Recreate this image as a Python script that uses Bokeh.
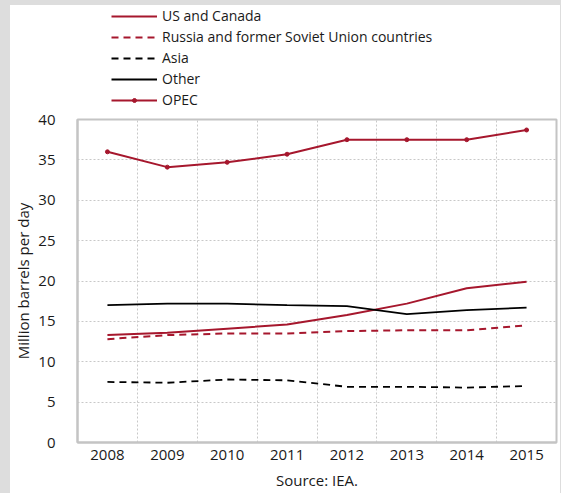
from bokeh.plotting import figure
from bokeh.layouts import column
from bokeh.models import Range1d, FixedTicker, Legend, LegendItem
from bokeh.embed import file_html
from bokeh.resources import INLINE

years = [2008, 2009, 2010, 2011, 2012, 2013, 2014, 2015]
us_canada = [13.3, 13.6, 14.1, 14.6, 15.8, 17.2, 19.1, 19.9]
russia = [12.8, 13.3, 13.5, 13.5, 13.8, 13.9, 13.9, 14.5]
asia = [7.5, 7.4, 7.8, 7.7, 6.9, 6.9, 6.8, 7.0]
other = [17.0, 17.2, 17.2, 17.0, 16.9, 15.9, 16.4, 16.7]
opec = [36.0, 34.1, 34.7, 35.7, 37.5, 37.5, 37.5, 38.7]
y_ticks = [0, 5, 10, 15, 20, 25, 30, 35, 40]
series_names = ["US and Canada", "Russia and former Soviet Union countries", "Asia", "Other", "OPEC"]
series_values = [us_canada, russia, asia, other, opec]

RED = "#a6172d"
FONT = "Open Sans"
GREY_BG = "#dddddd"
styles = [
    dict(line_color=RED, line_width=2),
    dict(line_color=RED, line_width=2, line_dash="7 5"),
    dict(line_color="black", line_width=1.8, line_dash="7 5"),
    dict(line_color="black", line_width=1.8),
    dict(line_color=RED, line_width=2),
]

W = 550
TOP_H = 104
MAIN_H = 384

# ---- main chart ----
p = figure(width=W, height=MAIN_H, output_backend="svg", toolbar_location=None,
           x_range=Range1d(years[0] - 0.5, years[-1] + 0.5), y_range=Range1d(0, 40),
           min_border_left=66, min_border_right=4, min_border_top=10, min_border_bottom=51,
           margin=(0, 1, 0, 10))
p.background_fill_color = "white"
p.border_fill_color = "white"
p.outline_line_color = "#c4c4c4"
p.outline_line_width = 2

for vals, st in zip(series_values, styles):
    p.line(years, vals, **st)
p.scatter(years, opec, size=4, color=RED)

p.xaxis.ticker = FixedTicker(ticks=years)
p.yaxis.ticker = FixedTicker(ticks=y_ticks)
p.xgrid.ticker = FixedTicker(ticks=[y + 0.5 for y in years[:-1]])
for g in (p.xgrid, p.ygrid):
    g.grid_line_color = "#c8c8c8"
    g.grid_line_dash = "2 2"
    g.grid_line_width = 1

for ax in (p.xaxis, p.yaxis):
    ax.axis_line_color = "#c4c4c4"
    ax.axis_line_width = 2
    ax.major_tick_line_color = None
    ax.minor_tick_line_color = None
    ax.major_label_text_font = FONT
    ax.major_label_text_font_size = "15px"
    ax.major_label_text_color = "#1a1a1a"
    ax.axis_label_text_font = FONT
    ax.axis_label_text_font_size = "15px"
    ax.axis_label_text_font_style = "normal"
    ax.axis_label_text_color = "#1a1a1a"

p.yaxis.axis_label = "Million barrels per day"
p.yaxis.major_label_standoff = 16
p.yaxis.axis_label_standoff = 2
p.xaxis.axis_label = "Source: IEA."
p.xaxis.major_label_standoff = 1
p.xaxis.axis_label_standoff = 7

# ---- legend strip above the chart (its lines lie outside its ranges) ----
top = figure(width=W, height=TOP_H, output_backend="svg", toolbar_location=None,
             x_range=Range1d(0, 1), y_range=Range1d(0, 1),
             x_axis_type=None, y_axis_type=None,
             min_border_left=0, min_border_right=0, min_border_top=0, min_border_bottom=0,
             margin=(5, 1, 0, 10))
top.outline_line_color = None
top.xgrid.visible = False
top.ygrid.visible = False
top.background_fill_color = "white"
top.border_fill_color = "white"

items = []
for name, vals, st in zip(series_names, series_values, styles):
    rs = [top.line(years, vals, **st)]
    if name == "OPEC":
        rs.append(top.scatter(years, vals, size=4, color=RED))
    items.append(LegendItem(label=name, renderers=rs))

legend = Legend(items=items, location=(34, -1))
legend.background_fill_alpha = 0
legend.border_line_color = None
legend.padding = 0
legend.margin = 0
legend.spacing = 0
legend.glyph_width = 46
legend.glyph_height = 10
legend.label_height = 21
legend.label_standoff = 5
legend.label_text_font = FONT
legend.label_text_font_size = "14px"
legend.label_text_color = "#1a1a1a"
top.add_layout(legend, "center")

layout = column(top, p, spacing=0, styles={
    "background-color": "white",
    "box-shadow": f"inset 10px 5px 0 0 {GREY_BG}, inset -1px 0 0 0 {GREY_BG}",
})
open("out.html", "w").write(file_html(layout, INLINE))
